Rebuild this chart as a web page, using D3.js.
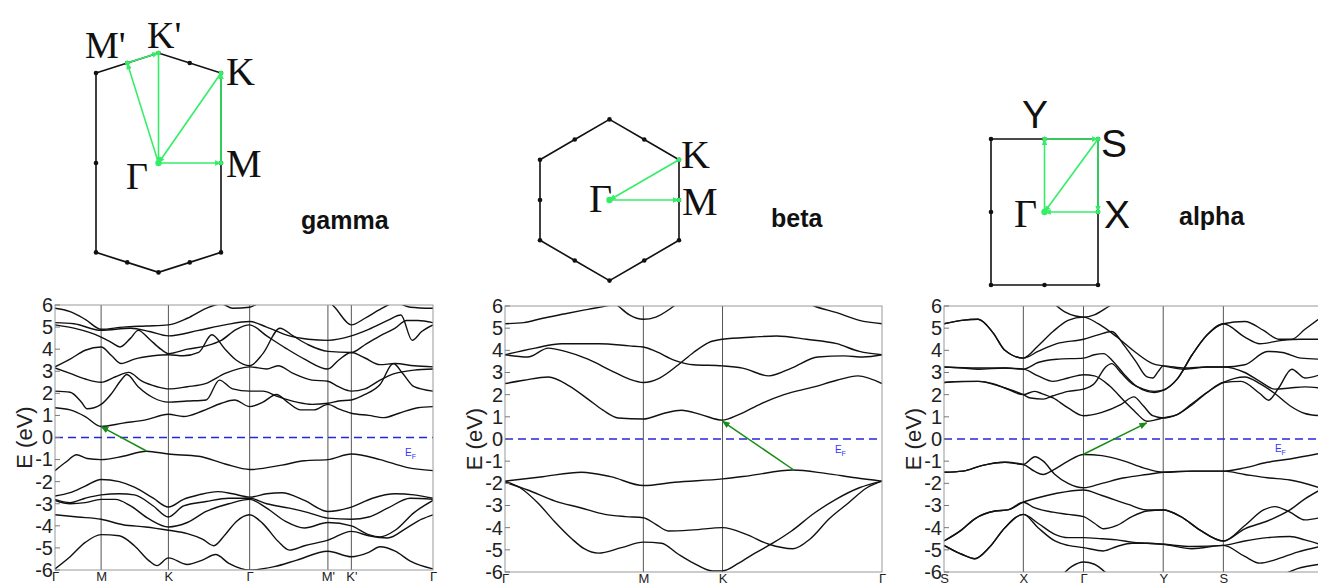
<!DOCTYPE html>
<html>
<head>
<meta charset="utf-8">
<script src="https://cdn.jsdelivr.net/npm/d3@7"></script>
<style>
  body { margin: 0; background: #fff; }
  svg { display: block; }
</style>
</head>
<body>
<svg id="fig" width="1318" height="587"></svg>
<script>
// ---- band structure data (k as % of path length, E in eV) ----
const energyTicks = [6, 5, 4, 3, 2, 1, 0, -1, -2, -3, -4, -5, -6];

const gammaTicks = [0, 12.2, 30.0, 51.5, 72.2, 78.4, 100];
const gammaTickLabels = ["Γ", "M", "K", "Γ", "M'", "K'", "Γ"];
const gammaBands = [
  [[0,-1.5],[3,-1.1],[5.7,-0.78],[8.5,-0.95],[12.2,-1.0],[18,-0.85],[24.2,-0.62],[30,-0.75],[38,-0.85],[45,-1.2],[51.5,-1.45],[60,-1.25],[66,-1.05],[72.2,-1.0],[78.4,-0.75],[86,-1.0],[93,-1.35],[100,-1.5]],
  [[0,-2.65],[4,-2.5],[8,-2.2],[12.2,-1.9],[17,-2.0],[21,-2.25],[26,-2.75],[30,-3.15],[34,-2.8],[38,-2.6],[43,-2.45],[47,-2.55],[51.5,-2.7],[56,-2.55],[60,-2.5],[66,-2.85],[72.2,-3.35],[78.4,-3.15],[84,-2.75],[90,-2.55],[95,-2.6],[100,-2.75]],
  [[0,-2.8],[4,-2.95],[8,-2.75],[12.2,-2.6],[17,-2.55],[21,-2.6],[26,-3.1],[30,-3.6],[34,-3.1],[40,-2.9],[46,-2.75],[51.5,-2.75],[56,-3.0],[62,-3.2],[67,-3.4],[72.2,-3.65],[78.4,-3.7],[83,-3.6],[88,-3.2],[94,-2.75],[100,-2.8]],
  [[0,-2.85],[4,-3.0],[8,-2.95],[12.2,-2.8],[16,-2.8],[20,-3.1],[25,-3.7],[30,-4.05],[35,-3.85],[40,-3.35],[46,-3.0],[51.5,-2.8],[56,-3.2],[61,-3.8],[66,-4.1],[72.2,-3.85],[78.4,-4.0],[83,-4.4],[86,-4.5],[90,-4.2],[95,-3.4],[100,-2.85]],
  [[0,-3.5],[6,-3.6],[12.2,-3.7],[18,-3.95],[24,-4.05],[30,-4.2],[35,-4.35],[39,-4.6],[42,-4.9],[45,-4.4],[48,-3.8],[51.5,-3.5],[55,-3.9],[59,-4.7],[62,-5.1],[66,-4.9],[72.2,-4.65],[78.4,-4.25],[83,-4.45],[88,-4.55],[93,-4.1],[97,-3.7],[100,-3.5]],
  [[0,-5.95],[4,-5.4],[8,-4.75],[12.2,-4.4],[17,-4.45],[21,-4.9],[25,-5.6],[27,-5.8],[30,-5.45],[35,-5.75],[39,-5.55],[42.5,-5.3],[46,-5.7],[51.5,-6.0],[58,-5.85],[64,-5.55],[72.2,-5.15],[78.4,-5.4],[83,-5.2],[86,-4.95],[90,-5.15],[94,-5.6],[100,-5.95]],
  [[0,1.35],[4,1.25],[8,0.95],[12.2,0.5],[18,0.65],[24,0.8],[30,1.05],[34,0.95],[39,1.2],[44,1.55],[47.5,1.7],[51.5,1.4],[55,1.6],[58.6,1.95],[61.5,1.6],[65,1.25],[68.5,1.25],[72.2,1.5],[75,1.3],[78.4,1.1],[83,1.0],[87,0.9],[91,1.1],[96,1.35],[100,1.4]],
  [[0,2.1],[4,2.05],[7,1.6],[8.5,1.3],[12.2,1.5],[15,2.0],[17.5,2.6],[19,2.85],[22,2.3],[26,1.8],[30,1.6],[35,1.65],[40,1.7],[43.5,2.6],[47,2.2],[51.5,2.1],[55,2.1],[59,1.85],[64,1.6],[68,1.5],[72.2,1.55],[75,1.65],[78.4,1.7],[82,1.95],[86,2.4],[89.5,3.35],[92,2.9],[95,2.3],[100,2.1]],
  [[0,3.15],[4,2.9],[8,2.65],[12.2,2.5],[16,2.75],[19.5,2.95],[23,2.55],[27,2.3],[30,2.2],[35,2.3],[40,2.45],[45,2.9],[51.5,3.2],[56,3.1],[59,3.25],[63,2.9],[68,2.6],[72.2,2.55],[75,2.3],[78.4,2.1],[82,2.2],[86,2.6],[90,2.9],[95,3.05],[100,3.1]],
  [[0,3.2],[4,3.55],[8,3.95],[12.2,4.1],[15,3.7],[17.5,3.35],[21,3.55],[26,3.7],[30,3.75],[34,3.7],[38,3.85],[41.5,4.65],[45,4.0],[48,3.5],[51.5,3.25],[55,3.8],[59.5,4.95],[63,4.6],[67,4.2],[72.2,3.9],[78.4,3.85],[82,4.2],[86,4.6],[90,4.95],[93,5.3],[96,5.3],[100,5.2]],
  [[0,5.1],[5,4.95],[12.2,4.55],[15,4.3],[17.2,4.1],[20,4.5],[22,4.85],[25,4.45],[28,4.0],[30,3.8],[35,4.0],[40,4.15],[44,4.4],[48,4.9],[51.5,5.1],[56,4.6],[61,4.05],[66,3.55],[72.2,3.1],[75,3.5],[78.4,3.85],[82,3.6],[86,3.3],[90,3.35],[95,3.25],[100,3.2]],
  [[0,5.2],[5,5.15],[12.2,4.85],[20,4.95],[25,4.8],[30,4.6],[38,4.85],[45,5.1],[51.5,5.25],[56,5.0],[62,4.6],[67,4.45],[72.2,4.4],[78.4,4.6],[83,4.9],[88,5.3],[91.5,5.55],[94.5,4.4],[97,4.8],[100,5.1]],
  [[0,5.85],[4,5.7],[8,5.35],[12.2,4.9],[18,5.0],[24,5.05],[30,5.1],[35,5.4],[40,5.85],[44,6.05],[47,5.85],[51.5,5.9],[55,6.2],[60,6.5]],
  [[70,6.6],[74,5.9],[78.4,5.1],[82,5.4],[86,5.8],[90,6.1],[94,5.9],[100,5.85]]
];
const gammaGap = [[24.2, -0.61], [12.2, 0.49]];

const betaTicks = [0, 36.7, 57.7, 100];
const betaTickLabels = ["Γ", "M", "K", "Γ"];
const betaBands = [
  [[0,-1.9],[10,-1.7],[20.3,-1.5],[28,-1.7],[36.7,-2.1],[45,-1.95],[57.7,-1.8],[65,-1.65],[76.4,-1.4],[85,-1.55],[93,-1.75],[100,-1.9]],
  [[0,-1.95],[6,-2.3],[13.3,-2.8],[20,-3.1],[26.5,-3.4],[32,-3.5],[36.7,-3.55],[40,-3.85],[43.3,-4.15],[50,-4.1],[57.7,-4.0],[64,-4.3],[70,-4.75],[76.4,-4.95],[81,-4.5],[86,-3.6],[91,-2.9],[96,-2.2],[100,-1.9]],
  [[0,-1.9],[4,-2.2],[8.8,-2.9],[13,-3.7],[17.7,-4.5],[21,-4.95],[24.7,-5.15],[30.9,-4.9],[36.7,-4.65],[41.5,-4.7],[46,-5.2],[50,-5.6],[55,-5.95],[57.7,-5.95],[62,-5.6],[66.3,-5.15],[71,-4.7],[76,-4.15],[82,-3.35],[88,-2.7],[94,-2.2],[100,-1.9]],
  [[0,2.5],[5,2.65],[11.5,2.8],[17,2.4],[22,1.8],[26,1.3],[30,0.95],[36.7,0.9],[42,1.15],[46.8,1.3],[52,1.1],[57.7,0.85],[62,1.1],[68,1.6],[74,2.0],[82,2.35],[88,2.65],[93.6,2.85],[100,2.5]],
  [[0,3.8],[6,3.7],[11.5,4.1],[16,3.95],[22,3.6],[28,3.1],[33,2.7],[36.7,2.55],[41,2.75],[46,3.35],[50,3.9],[54,4.35],[57.7,4.5],[66,4.6],[72,4.65],[80,4.5],[88,4.3],[94,3.95],[100,3.8]],
  [[0,3.8],[8,4.1],[15,4.3],[25,4.3],[33,4.2],[36.7,4.15],[40,3.95],[45,3.55],[50,3.35],[57.7,3.3],[63,3.2],[70,2.85],[76,3.2],[83,3.7],[90,3.75],[95,3.7],[100,3.8]],
  [[0,5.2],[5,5.25],[10,5.45],[16,5.65],[22,5.85],[28,6.05],[32,6.3]],
  [[26,6.5],[30,6.0],[33,5.6],[36.7,5.4],[40,5.5],[44,5.9],[47,6.3]],
  [[78,6.3],[82,6.0],[88,5.7],[94,5.35],[100,5.2]]
];
const betaGap = [[76.7, -1.41], [57.7, 0.8]];

const alphaTicks = [0, 21.1, 37.1, 58.3, 74.3];
const alphaTickLabels = ["S", "X", "Γ", "Y", "S"];
const alphaBands = [
  [[0,-1.5],[5,-1.45],[10,-1.2],[16.2,-1.05],[21.1,-1.15],[24,-1.45],[26.4,-1.6],[29,-1.4],[33,-1.0],[37.1,-0.7],[42,-0.75],[48,-1.0],[53,-1.3],[58.3,-1.5],[66,-1.45],[74.3,-1.45],[80,-1.3],[86,-1.05],[92,-0.9],[100,-0.65]],
  [[0,-1.5],[5,-1.45],[10,-1.2],[16.2,-1.05],[21.1,-1.15],[24.2,-0.8],[26.4,-1.0],[29.5,-1.6],[33,-2.0],[37.1,-2.2],[42,-2.0],[48,-1.75],[54,-1.6],[58.3,-1.5],[66,-1.45],[74.3,-1.45],[80,-1.6],[86,-1.75],[92,-1.85],[100,-2.2]],
  [[0,-4.6],[4.7,-4.1],[8.2,-3.6],[13.6,-3.25],[17,-3.2],[21.1,-2.85],[25,-2.65],[30,-2.45],[37.1,-2.3],[42,-2.55],[49,-2.95],[54,-3.2],[58.3,-3.2],[63,-3.5],[68,-4.1],[74.3,-4.6],[80,-3.9],[85,-3.2],[88,-3.05],[92,-3.3],[96,-3.65],[100,-3.55]],
  [[0,-4.6],[4.7,-4.1],[8.2,-3.6],[13.6,-3.25],[17,-3.2],[21.1,-2.85],[24,-3.1],[29,-3.3],[33,-3.4],[37.1,-3.5],[40,-3.8],[42.4,-4.05],[46,-3.9],[50,-3.5],[54,-3.25],[58.3,-3.2],[63,-3.5],[68,-4.1],[74.3,-4.6],[80,-4.05],[86,-3.7],[92,-3.2],[96,-2.7],[100,-2.3]],
  [[0,-4.8],[4.7,-5.2],[8.2,-5.4],[12,-4.9],[16.2,-4.0],[21.1,-3.4],[25,-3.8],[29.5,-4.3],[33,-4.45],[37.1,-4.45],[42,-4.5],[46,-4.55],[50,-4.65],[54,-4.7],[58.3,-4.75],[66,-4.85],[74.3,-4.8],[80,-4.6],[86,-4.45],[92,-4.4],[96,-4.55],[100,-4.75]],
  [[0,-4.8],[4.7,-5.2],[8.2,-5.4],[12,-4.9],[16.2,-4.0],[21.1,-3.4],[25,-4.0],[29.5,-4.6],[33,-4.8],[37.1,-4.9],[42.4,-5.05],[46,-4.85],[50,-4.7],[54,-4.7],[58.3,-4.75],[66,-4.95],[74.3,-4.8],[80,-5.3],[84,-5.6],[88,-5.45],[94,-5.1],[100,-4.85]],
  [[30,-6.4],[34,-5.75],[37.1,-5.55],[40,-5.65],[44,-6.2]],
  [[88,-6.3],[94,-5.85],[100,-5.65]],
  [[0,2.55],[5,2.6],[9.1,2.6],[13,2.5],[16.2,2.3],[21.1,2.0],[24,2.15],[26,2.05],[29,1.85],[33,1.4],[37.1,1.05],[42,1.2],[47,1.55],[50.5,1.9],[53,1.5],[55.5,1.05],[58.3,0.95],[62,1.1],[66,1.55],[70,2.1],[74.3,2.55],[80,2.8],[84,2.5],[88,2.05],[92,1.5],[96,1.15],[100,1.05]],
  [[0,2.55],[9.1,2.6],[16.2,2.3],[21.1,2.0],[23,1.85],[26.4,1.8],[29,1.95],[33,2.15],[37.1,2.25],[40,2.5],[43,3.25],[44.6,3.4],[47,3.0],[50,2.5],[53,2.25],[56,2.15],[58.3,2.2],[62,2.7],[66,3.8],[70,4.7],[74.3,5.2],[80,5.3],[85,4.9],[89,4.5],[92.5,4.5],[96,4.95],[100,5.45]],
  [[0,3.25],[5,3.2],[9.1,3.15],[16.2,3.2],[21.1,3.15],[25,2.85],[29,2.6],[33,2.75],[37.1,2.9],[40,2.85],[44,2.4],[48,1.7],[51,1.2],[54,0.8],[56,0.85],[58.3,0.95],[62,1.1],[66,1.6],[70,2.1],[74.3,2.55],[79,2.6],[84,2.05],[86.3,1.75],[89,2.3],[92.5,3.15],[96,2.75],[100,2.9]],
  [[0,3.25],[9.1,3.2],[16.2,3.2],[21.1,3.15],[25,3.45],[30,3.6],[37.1,3.65],[40,3.8],[42.4,3.85],[45,3.5],[48,2.9],[51,2.4],[54,2.15],[56,2.1],[58.3,2.2],[62,2.7],[66,3.8],[70,4.7],[74.3,5.2],[80,4.6],[84,4.3],[90,4.45],[95,4.5],[100,4.5]],
  [[0,5.2],[4.7,5.35],[9.1,5.4],[13,4.8],[16.2,4.0],[21.1,3.65],[25,3.95],[30,4.3],[37.1,4.5],[41,4.7],[44.6,4.85],[48,4.2],[51,3.5],[54,2.8],[55.5,2.75],[57,3.05],[58.3,3.3],[64,3.2],[70,3.25],[74.3,3.25],[80,3.35],[86,3.95],[90,3.9],[95,3.65],[100,3.6]],
  [[0,5.2],[4.7,5.35],[9.1,5.4],[13,4.8],[16.2,4.0],[21.1,3.65],[25,4.2],[29,4.85],[33,5.35],[37.1,5.5],[41,5.2],[46,4.6],[51,3.9],[55.5,3.4],[58.3,3.3],[64,3.15],[70,3.25],[74.3,3.25],[80,3.0],[84,2.6],[88,2.25],[92,2.3],[96,2.35],[100,2.3]],
  [[28,6.3],[32,5.75],[35,5.55],[37.1,5.5],[40,5.6],[44,6.0],[47,6.3]]
];
const alphaGap = [[37.1, -0.69], [53.9, 0.73]];

// ---- Brillouin zones (units of half-width, y up) ----
const gammaZone = [[-1,1.44],[-0.5,1.6],[0,1.76],[0.5,1.6],[1,1.44],[1,0],[1,-1.43],[0.5,-1.59],[0,-1.75],[-0.5,-1.59],[-1,-1.43],[-1,0]];
const gammaPoints = { G: [0,0], M: [1,0], K: [1,1.44], Kp: [0,1.76], Mp: [-0.5,1.6] };
const gammaPath = [["G","M"],["M","K"],["K","G"],["G","Mp"],["Mp","Kp"],["Kp","G"]];

const betaZone = [[0,1.16],[0.5,0.87],[1,0.58],[1,0],[1,-0.58],[0.5,-0.87],[0,-1.16],[-0.5,-0.87],[-1,-0.58],[-1,0],[-1,0.58],[-0.5,0.87]];
const betaPoints = { G: [0,0], M: [1,0], K: [1,0.58] };
const betaPath = [["K","G"],["G","M"]];

const alphaZone = [[-1,1.365],[0,1.365],[1,1.365],[1,0],[1,-1.365],[0,-1.365],[-1,-1.365],[-1,0]];
const alphaPoints = { G: [0,0], Y: [0,1.365], S: [1,1.365], X: [1,0] };
const alphaPath = [["G","Y"],["Y","S"],["S","X"],["X","G"],["S","G"]];

// ---- drawing ----
const SANS = "'Liberation Sans', Arial, Helvetica, sans-serif";
const SERIF = "'Liberation Serif', 'Times New Roman', Times, serif";
const svg = d3.select("#fig");
const defs = svg.append("defs");

function addMarker(id, color, size) {
  defs.append("marker")
    .attr("id", id)
    .attr("viewBox", "0 0 10 10")
    .attr("refX", 9)
    .attr("refY", 5)
    .attr("markerWidth", size)
    .attr("markerHeight", size)
    .attr("markerUnits", "userSpaceOnUse")
    .attr("orient", "auto")
    .append("path")
    .attr("d", "M0,1 L10,5 L0,9 Z")
    .attr("fill", color);
}
addMarker("head-dark", "#188c18", 8);
addMarker("head-light", "#33ee66", 7);

function drawBands(cfg) {
  const { name, box, ticks, tickLabels, bands, gap, ef } = cfg;
  const x = d3.scaleLinear().domain([0, 100]).range([box.left, box.right]);
  const y = d3.scaleLinear().domain([-6, 6]).range([box.bottom, box.top]);
  const g = svg.append("g").attr("class", "bands-" + name);

  defs.append("clipPath").attr("id", "clip-" + name)
    .append("rect")
    .attr("x", box.left).attr("y", box.top)
    .attr("width", box.right - box.left).attr("height", box.bottom - box.top);

  // high-symmetry lines
  g.selectAll(".kline")
    .data(ticks.filter((t) => t > 0 && t < 100))
    .join("line")
    .attr("class", "kline")
    .attr("x1", (d) => x(d)).attr("x2", (d) => x(d))
    .attr("y1", box.top).attr("y2", box.bottom)
    .attr("stroke", "#555")
    .attr("stroke-width", 1);

  // Fermi level
  g.append("line")
    .attr("x1", box.left).attr("x2", box.right)
    .attr("y1", y(0)).attr("y2", y(0))
    .attr("stroke", "#2626dd")
    .attr("stroke-width", 1.6)
    .attr("stroke-dasharray", "8,5");

  const line = d3.line()
    .x((d) => x(d[0]))
    .y((d) => y(d[1]))
    .curve(d3.curveMonotoneX);

  g.append("g")
    .attr("clip-path", "url(#clip-" + name + ")")
    .selectAll("path")
    .data(bands)
    .join("path")
    .attr("d", line)
    .attr("fill", "none")
    .attr("stroke", "#111")
    .attr("stroke-width", 1.4);

  // transition arrow
  g.append("line")
    .attr("x1", x(gap[0][0])).attr("y1", y(gap[0][1]))
    .attr("x2", x(gap[1][0])).attr("y2", y(gap[1][1]))
    .attr("stroke", "#188c18")
    .attr("stroke-width", 1.5)
    .attr("marker-end", "url(#head-dark)");

  // frame
  g.append("rect")
    .attr("x", box.left).attr("y", box.top)
    .attr("width", box.right - box.left).attr("height", box.bottom - box.top)
    .attr("fill", "none")
    .attr("stroke", "#999")
    .attr("stroke-width", 1);

  // inner tick marks
  g.selectAll(".ytick")
    .data(energyTicks)
    .join("line")
    .attr("x1", box.left).attr("x2", box.left + 5)
    .attr("y1", (d) => y(d)).attr("y2", (d) => y(d))
    .attr("stroke", "#777");

  // y axis labels
  const yAxis = g.append("g")
    .attr("transform", `translate(${box.left},0)`)
    .call(d3.axisLeft(y).tickValues(energyTicks).tickSize(0).tickPadding(2).tickFormat((d) => String(d)));
  yAxis.select(".domain").remove();
  yAxis.selectAll("text")
    .attr("font-family", SANS)
    .attr("font-size", 20)
    .attr("fill", "#222");

  // x axis labels
  const xAxis = g.append("g")
    .attr("transform", `translate(0,${box.bottom})`)
    .call(d3.axisBottom(x).tickValues(ticks).tickSize(0).tickPadding(2).tickFormat((d, i) => tickLabels[i]));
  xAxis.select(".domain").remove();
  xAxis.selectAll("text")
    .attr("font-family", SANS)
    .attr("font-size", 13)
    .attr("fill", "#222");

  // axis title
  g.append("text")
    .attr("transform", `translate(${box.left - 31},${(box.top + box.bottom) / 2}) rotate(-90)`)
    .attr("text-anchor", "middle")
    .attr("dominant-baseline", "central")
    .attr("font-family", SANS)
    .attr("font-size", 22)
    .attr("fill", "#222")
    .text("E (eV)");

  // E_F label
  const efText = g.append("text")
    .attr("x", x(ef[0])).attr("y", y(ef[1]))
    .attr("font-family", SANS)
    .attr("font-size", 10)
    .attr("fill", "#3434ff");
  efText.append("tspan").text("E");
  efText.append("tspan").attr("font-size", 7).attr("dy", 3).text("F");
}

function drawZone(cfg) {
  const { cx, cy, unit, zone, points, path, labels, tag } = cfg;
  const x = d3.scaleLinear().domain([-1, 1]).range([cx - unit, cx + unit]);
  const y = d3.scaleLinear().domain([-1, 1]).range([cy + unit, cy - unit]);
  const g = svg.append("g");

  g.append("path")
    .attr("d", d3.line().x((d) => x(d[0])).y((d) => y(d[1]))(zone) + "Z")
    .attr("fill", "none")
    .attr("stroke", "#111")
    .attr("stroke-width", 1.6);

  g.selectAll(".vtx")
    .data(zone)
    .join("circle")
    .attr("class", "vtx")
    .attr("cx", (d) => x(d[0])).attr("cy", (d) => y(d[1]))
    .attr("r", 2.3)
    .attr("fill", "#111");

  g.selectAll(".leg")
    .data(path)
    .join("line")
    .attr("class", "leg")
    .attr("x1", (d) => x(points[d[0]][0])).attr("y1", (d) => y(points[d[0]][1]))
    .attr("x2", (d) => x(points[d[1]][0])).attr("y2", (d) => y(points[d[1]][1]))
    .attr("stroke", "#33ee66")
    .attr("stroke-width", 1.6)
    .attr("marker-end", "url(#head-light)");

  g.selectAll(".hs")
    .data(Object.keys(points))
    .join("circle")
    .attr("class", "hs")
    .attr("cx", (k) => x(points[k][0])).attr("cy", (k) => y(points[k][1]))
    .attr("r", (k) => (k === "G" ? 3.2 : 2.3))
    .attr("fill", "#33ee66");

  g.selectAll(".lbl")
    .data(labels)
    .join("text")
    .attr("class", "lbl")
    .attr("x", (d) => d.x).attr("y", (d) => d.y)
    .attr("font-family", (d) => (d.serif ? SERIF : SANS))
    .attr("font-size", (d) => d.size)
    .attr("fill", "#111")
    .text((d) => d.t);

  g.append("text")
    .attr("x", tag.x).attr("y", tag.y)
    .attr("font-family", SANS)
    .attr("font-weight", "bold")
    .attr("font-size", 25)
    .attr("fill", "#111")
    .text(tag.t);
}

drawZone({
  cx: 158.5, cy: 163, unit: 62.5,
  zone: gammaZone, points: gammaPoints, path: gammaPath,
  labels: [
    { t: "M'", x: 85, y: 58, size: 38, serif: true },
    { t: "K'", x: 147, y: 48, size: 38, serif: true },
    { t: "K", x: 226, y: 85, size: 40, serif: true },
    { t: "M", x: 226, y: 177, size: 40, serif: true },
    { t: "Γ", x: 126, y: 189, size: 38, serif: true }
  ],
  tag: { t: "gamma", x: 301, y: 229 }
});

drawZone({
  cx: 609.5, cy: 200, unit: 69.5,
  zone: betaZone, points: betaPoints, path: betaPath,
  labels: [
    { t: "K", x: 681, y: 168, size: 40, serif: true },
    { t: "M", x: 682, y: 215, size: 40, serif: true },
    { t: "Γ", x: 589, y: 212, size: 40, serif: true }
  ],
  tag: { t: "beta", x: 771, y: 227 }
});

drawZone({
  cx: 1044.5, cy: 212, unit: 53.5,
  zone: alphaZone, points: alphaPoints, path: alphaPath,
  labels: [
    { t: "Y", x: 1022, y: 128, size: 39, serif: false },
    { t: "S", x: 1101, y: 157, size: 39, serif: false },
    { t: "X", x: 1104, y: 228, size: 39, serif: false },
    { t: "Γ", x: 1014, y: 227, size: 40, serif: true }
  ],
  tag: { t: "alpha", x: 1179, y: 225 }
});

drawBands({
  name: "gamma",
  box: { left: 55, right: 433, top: 305, bottom: 570 },
  ticks: gammaTicks, tickLabels: gammaTickLabels,
  bands: gammaBands, gap: gammaGap, ef: [92.6, -0.85]
});

drawBands({
  name: "beta",
  box: { left: 505, right: 882, top: 306, bottom: 572 },
  ticks: betaTicks, tickLabels: betaTickLabels,
  bands: betaBands, gap: betaGap, ef: [87.5, -0.65]
});

drawBands({
  name: "alpha",
  box: { left: 944, right: 1320, top: 306, bottom: 572 },
  ticks: alphaTicks, tickLabels: alphaTickLabels,
  bands: alphaBands, gap: alphaGap, ef: [88, -0.6]
});
</script>
</body>
</html>
